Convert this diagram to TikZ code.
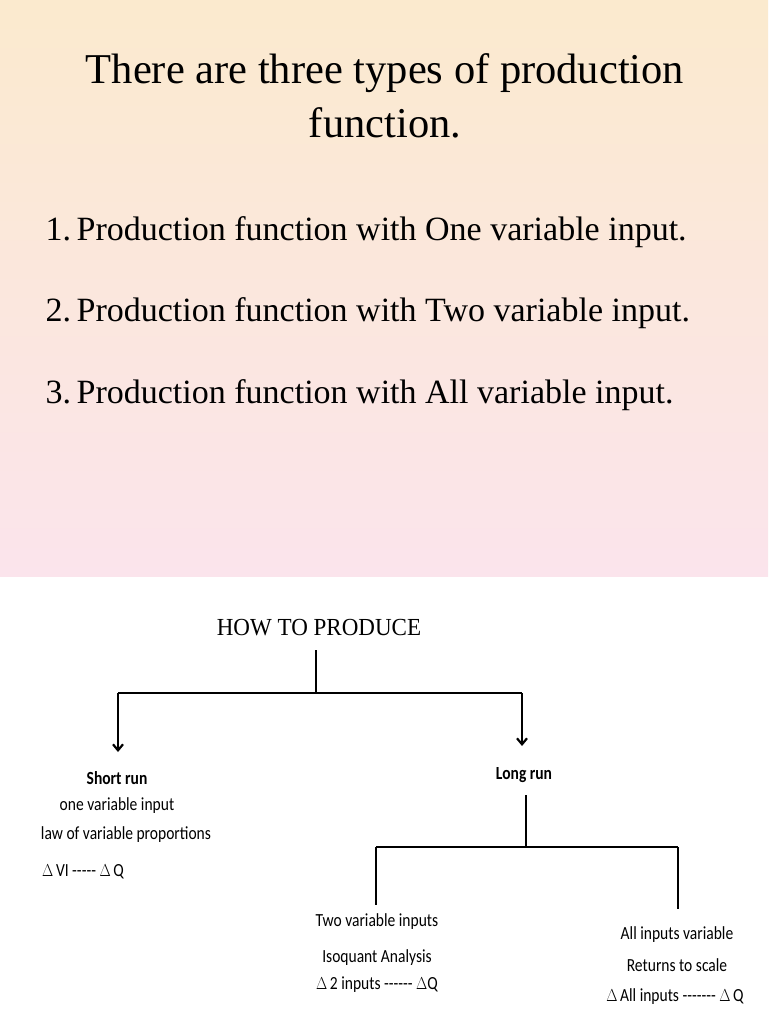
\documentclass[tikz,border=0pt]{standalone}
\usepackage{fontspec}
\usetikzlibrary{arrows.meta}
\setmainfont{Liberation Serif}
\newfontfamily\crlfont{Carlito}
\begin{document}
\begin{tikzpicture}[x=1pt,y=-1pt,
  title/.style={font=\fontsize{42.5}{48}\selectfont},
  item/.style={font=\fontsize{34}{40}\selectfont, anchor=west},
  lbl/.style={font=\crlfont\fontsize{18.5}{22}\selectfont, xscale=0.84},
  blbl/.style={font=\crlfont\bfseries\fontsize{18.5}{22}\selectfont, xscale=0.84},
  ln/.style={line width=2.2pt},
  arr/.style={line width=2.2pt,-{Straight Barb[length=6pt,width=10pt]}}]
\useasboundingbox (0,0) rectangle (768,1024);
\fill[white] (0,0) rectangle (768,1024);
\shade[top color={rgb,255:red,251;green,234;blue,206}, bottom color={rgb,255:red,251;green,228;blue,236}] (0,0) rectangle (768,576);
\node[title] (t1) at (385,73) {There are three types of production};
\node[title] (t2) at (385,123) {function.};
\node[item] (i1) at (42,232) {1.\,Production function with One variable input.};
\node[item] (i2) at (42,313) {2.\,Production function with Two variable input.};
\node[item] (i3) at (42,395) {3.\,Production function with All variable input.};
% diagram
\node[font=\fontsize{24.5}{28}\selectfont, xscale=0.94] (how) at (319,628) {HOW TO PRODUCE};
\coordinate (hb) at (316,650);
\coordinate (hj) at (316,693);
\coordinate (hl) at (118,693);
\coordinate (hr) at (522,693);
\coordinate (al) at (118,752);
\coordinate (ar) at (522,746);
\draw[ln] (hb) -- (hj);
\draw[ln] (hl) -- (hr);
\draw[arr] (hl) -- (al);
\draw[arr] (hr) -- (ar);
\node[blbl] (sr) at (117,778) {Short run};
\node[lbl] (s1) at (117,806) {one variable input};
\node[lbl] (s2) at (126,835) {law of variable proportions};
\node[lbl] (s3) at (83,872) {$\Delta$\,VI ----- $\Delta$\,Q};
\node[blbl] (lr) at (524,775) {Long run};
\coordinate (lb) at (526,795);
\coordinate (lj) at (526,847);
\coordinate (ll) at (376,847);
\coordinate (lrr) at (678,847);
\coordinate (lle) at (376,905);
\coordinate (lre) at (678,909);
\draw[line width=1.5pt] (lb) -- (lj);
\draw[ln] (ll) -- (lrr);
\draw[ln] (ll) -- (lle);
\draw[ln] (lrr) -- (lre);
\node[lbl] (a1) at (377,922) {Two variable inputs};
\node[lbl] (a2) at (377,958) {Isoquant Analysis};
\node[lbl] (a3) at (377,985) {$\Delta$\,2 inputs ------ $\Delta$Q};
\node[lbl] (b1) at (677,935) {All inputs variable};
\node[lbl] (b2) at (677,965) {Returns to scale};
\node[lbl] (b3) at (675,997) {$\Delta$\,All inputs ------- $\Delta$\,Q};
\end{tikzpicture}
\end{document}
